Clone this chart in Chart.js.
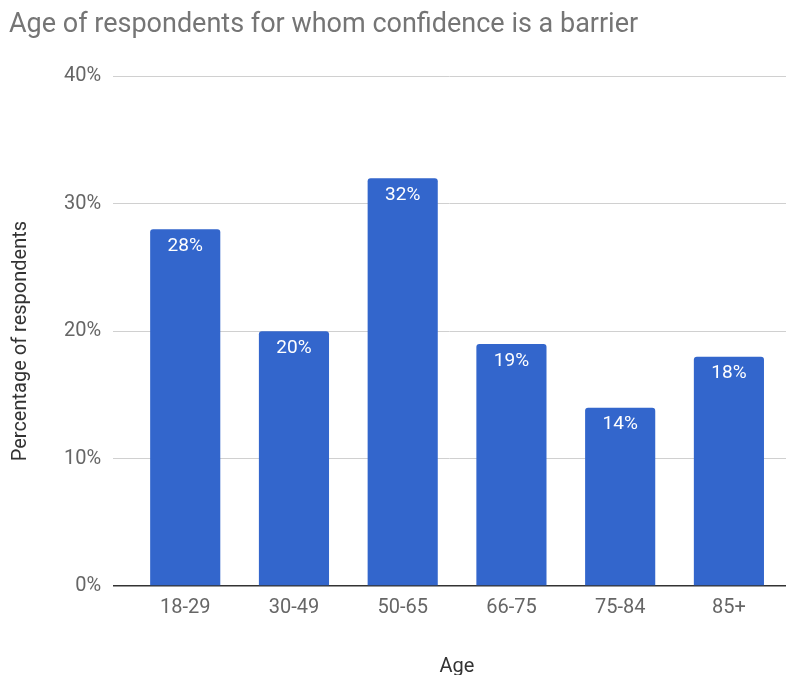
<!DOCTYPE html>
<html>
<head>
<meta charset="utf-8">
<script src="https://cdn.jsdelivr.net/npm/chart.js@4"></script>
<style>
  html, body { margin: 0; padding: 0; background: #fff; }
  #wrap { width: 795px; height: 675px; position: relative; }
</style>
</head>
<body>
<div id="wrap"><canvas id="ageChart"></canvas></div>
<script>
const ageGroups = ['18-29', '30-49', '50-65', '66-75', '75-84', '85+'];
const percentages = [28, 20, 32, 19, 14, 18];
const yTicks = [0, 10, 20, 30, 40];

const barColor = '#3366cc';

// writes the value inside the top of each bar
const barLabels = {
    id: 'barLabels',
    afterDatasetsDraw(chart) {
        const ctx = chart.ctx;
        const meta = chart.getDatasetMeta(0);
        ctx.save();
        ctx.fillStyle = '#ffffff';
        ctx.font = '19px Roboto';
        ctx.textAlign = 'center';
        ctx.textBaseline = 'middle';
        meta.data.forEach((bar, i) => {
            ctx.fillText(percentages[i] + '%', bar.x, bar.y + 17);
        });
        ctx.restore();
    }
};

new Chart(document.getElementById('ageChart'), {
    type: 'bar',
    data: {
        datasets: [{
            data: percentages.map((v, i) => ({ x: i, y: v })),
            backgroundColor: barColor,
            borderRadius: { topLeft: 3, topRight: 3 },
            borderSkipped: 'bottom',
            barPercentage: 0.645,
            categoryPercentage: 1
        }]
    },
    options: {
        responsive: true,
        maintainAspectRatio: false,
        animation: false,
        layout: { padding: { top: 0, right: 9, bottom: 0, left: 9 } },
        plugins: {
            legend: { display: false },
            tooltip: { enabled: false },
            title: {
                display: true,
                text: 'Age of respondents for whom confidence is a barrier',
                align: 'start',
                color: '#757575',
                font: { family: 'Roboto', size: 27, weight: 'normal' },
                padding: { top: 9, bottom: 35 }
            }
        },
        scales: {
            x: {
                type: 'linear',
                offset: false,
                min: -0.663,
                max: 5.525,
                afterBuildTicks: axis => {
                    axis.ticks = ageGroups.map((_, i) => ({ value: i }));
                },
                grid: { display: false, drawTicks: false },
                border: { display: false },
                ticks: {
                    color: '#666',
                    font: { family: 'Roboto', size: 20 },
                    padding: 10,
                    callback: v => ageGroups[v]
                },
                title: {
                    display: true,
                    // leading spaces nudge the label a little right of centre
                    text: '   Age',
                    color: '#333',
                    font: { family: 'Roboto', size: 20 },
                    padding: { top: 25, bottom: -4 }
                }
            },
            y: {
                min: 0,
                max: 40,
                afterBuildTicks: axis => {
                    axis.ticks = yTicks.map(v => ({ value: v }));
                },
                grid: {
                    color: ctx => ctx.tick.value === 0 ? '#333' : '#d0d0d0',
                    lineWidth: ctx => ctx.tick.value === 0 ? 1.5 : 1,
                    drawTicks: false
                },
                border: { display: false },
                ticks: {
                    color: '#666',
                    font: { family: 'Roboto', size: 20 },
                    padding: 12,
                    callback: v => v + '%'
                },
                title: {
                    display: true,
                    // trailing spaces push the rotated label slightly downward
                    text: 'Percentage of respondents    ',
                    color: '#333',
                    font: { family: 'Roboto', size: 20 },
                    padding: { top: 0, bottom: 19 }
                }
            }
        }
    },
    plugins: [barLabels]
});
</script>
</body>
</html>
